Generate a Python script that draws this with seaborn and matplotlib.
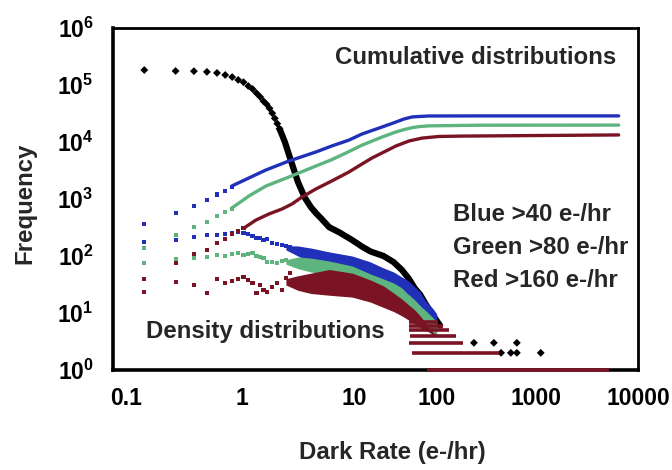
import matplotlib
matplotlib.use("Agg")
import matplotlib.pyplot as plt
import matplotlib.transforms as mtransforms
import seaborn as sns
from matplotlib.ticker import FixedLocator, NullFormatter, LogLocator

# ---------------- data ----------------
# black: density of all pixels (sparse dots, then dense line)
black_dot_x = [0.2, 0.4, 0.6, 0.8, 1.0, 1.2, 1.4, 1.6, 1.8, 2.0, 2.2, 2.4, 2.6, 2.8, 3.0, 3.2, 3.4, 3.6, 3.8, 4.0]
black_dot_y = [1.83e5, 1.76e5, 1.75e5, 1.70e5, 1.63e5, 1.50e5, 1.38e5, 1.23e5, 1.12e5, 9.6e4,
               8.5e4, 7.2e4, 6.2e4, 5.2e4, 4.6e4, 3.9e4, 3.2e4, 2.6e4, 2.1e4, 1.7e4]
black_line_x = [4.0, 4.5, 5, 6, 7, 8, 9, 10, 12, 15, 20, 25, 30, 40, 50, 60, 70, 80, 90, 100, 120, 140]
black_line_y = [1.7e4, 1.0e4, 5.5e3, 2.0e3, 1.05e3, 720, 560, 460, 320, 260, 190, 145, 120, 100,
                78, 57, 40, 27, 21, 15, 9, 6]
black_extra_x = [296, 460, 766, 540, 670, 766, 1300]
black_extra_y = [3, 3, 3, 2, 2, 2, 2]

# cumulative distributions
cum_dot_x = [0.2, 0.4, 0.6, 0.8, 1.0, 1.2, 1.4]
blue_cum_dot_y = [366, 566, 755, 965, 1200, 1400, 1620]
green_cum_dot_y = [138, 233, 324, 395, 505, 590, 666]
red_cum_dot_x = [0.2, 0.4, 0.6, 0.8, 1.0, 1.2, 1.4, 1.6, 1.8]
red_cum_dot_y = [39.4, 75, 108, 127, 169, 198, 243, 275, 310]

blue_cum_line_x = [1.39, 2.03, 2.96, 4.92, 8.94, 12.7, 18.6, 24.8, 38.6, 52.6, 62.8, 75, 87.6, 109, 330, 7300]
blue_cum_line_y = [1690, 2340, 3230, 4640, 6680, 8510, 10800, 13800, 18300, 22400, 25300, 27500, 28000,
                   28600, 28700, 28700]
green_cum_line_x = [1.39, 2.03, 2.96, 4.92, 8.94, 12.7, 18.6, 24.8, 38.6, 52.6, 62.8, 75, 87.6, 109, 330, 7300]
green_cum_line_y = [695, 1130, 1690, 2430, 3790, 4900, 6800, 8800, 12200, 15000, 16500, 17800, 18600,
                    19200, 19700, 19800]
red_cum_line_x = [1.82, 2.37, 3.16, 4.22, 5.26, 6.56, 8.94, 12.7, 18.6, 24.8, 31, 38.6, 52.6, 70, 93.6,
                  136, 226, 7300]
red_cum_line_y = [310, 427, 546, 668, 817, 1080, 1500, 2070, 2980, 4110, 5250, 6410, 8510, 10400, 11700,
                  12500, 12700, 13300]

# density distributions, sparse part
dens_x = [0.2, 0.4, 0.6, 0.8, 1.0, 1.2, 1.4, 1.6, 1.8, 2.0, 2.2, 2.4, 2.6, 2.8, 3.0, 3.4, 3.8, 4.2, 4.6, 5.0]
blue_dens_y = [176, 191, 215, 234, 234, 243, 253, 264, 253, 243, 225, 207, 207, 191, 199, 169, 162, 156, 150, 144]
green_dens_y = [75, 89, 92, 96, 104, 100, 108, 113, 104, 108, 113, 100, 96, 92, 78, 78, 75, 81, 85, 78]
red_dens_y = [23, 35, 31, 22.4, 39, 34, 36, 39, 43, 38, 34, 22.4, 31, 25, 23, 28.6, 34, 25, 41, 50]

# density distributions, dense part (upper / lower envelope of the dot cloud)
band_x = [4.6, 6, 8, 12, 20, 30, 40, 50, 60, 70, 80, 90, 100, 110, 120, 130]
blue_hi = [152, 150, 138, 118, 100, 78.5, 61.6, 52.4, 42.8, 36.4, 28.6, 23.4, 16.9, 13.8, 11.8, 9.6]
blue_lo = [128, 100, 78.5, 66.8, 56.8, 44.6, 35, 29.8, 24.3, 20.7, 16.2, 13.3, 9.6, 7.85, 6.7, 5.5]
green_hi = [86, 96, 92, 81.7, 66.8, 48.3, 39.5, 33.6, 27.5, 20.7, 16.9, 13.3, 11.3, 9.6, 8.2, 6.95]
green_lo = [72, 60, 52.4, 46.4, 37.9, 27.5, 22.4, 19.1, 15.6, 11.8, 9.6, 7.85, 6.4, 5.5, 4.6, 3.95]
red_hi = [40, 45, 50, 58, 50, 37.9, 29.8, 22.4, 17.6, 13.8, 11.3, 8.9, 6.95, 5.5, 4.6, 4.1]
red_lo = [31, 25, 22, 20.5, 19, 15.5, 12.5, 10.6, 8.9, 7.5, 6.4, 5.5, 5.0, 4.6, 4.1, 3.8]

# integer-count rows of the red density cloud
stripe_counts = [1, 2, 3, 4, 5, 6, 7]
stripe_start = [105, 75, 70, 72, 70, 70, 70]
stripe_end = [5900, 520, 230, 200, 170, 150, 135]

x_ticks = [0.1, 1, 10, 100, 1000, 10000]
x_labels = ["0.1", "1", "10", "100", "1000", "10000"]
y_ticks = [1, 10, 100, 1000, 10000, 100000, 1000000]
y_labels = [r"$\mathbf{10^{%d}}$" % i for i in range(7)]

# ---------------- style ----------------
sns.set_theme(style="white")
plt.rcParams["font.family"] = ["Liberation Sans", "DejaVu Sans"]
plt.rcParams["mathtext.fontset"] = "custom"
plt.rcParams["mathtext.rm"] = "Liberation Sans"
plt.rcParams["mathtext.bf"] = "Liberation Sans:bold"

BLUE = "#2030b8"
GREEN = "#5db47e"
RED = "#7a1424"
BLACK = "#000000"
FS_TICK = 16.5
FS = 17.3

fig = plt.figure(figsize=(6.72, 4.70), dpi=100)
ax = fig.add_axes([113 / 672, 1 - 370 / 470, (638 - 113) / 672, (370 - 28) / 470])
ax.set_xscale("log")
ax.set_yscale("log")

# black series
sns.lineplot(x=black_line_x, y=black_line_y, ax=ax, color=BLACK, lw=4.5, estimator=None,
             sort=False, zorder=2)
sns.scatterplot(x=black_dot_x, y=black_dot_y, ax=ax, color=BLACK, s=16, marker="D",
                edgecolor="none", zorder=2)
sns.scatterplot(x=black_extra_x, y=black_extra_y, ax=ax, color=BLACK, s=16, marker="D",
                edgecolor="none", zorder=2)

# density bands
ax.fill_between(band_x, blue_lo, blue_hi, color=BLUE, lw=0, zorder=3)
ax.fill_between(band_x, green_lo, green_hi, color=GREEN, lw=0, zorder=4)
ax.fill_between(band_x, red_lo, red_hi, color=RED, lw=0, zorder=5)
ax.hlines(stripe_counts, stripe_start, stripe_end, colors=RED, lw=2.6, zorder=6, clip_on=False)

# density sparse dots
for yy, col in [(blue_dens_y, BLUE), (green_dens_y, GREEN), (red_dens_y, RED)]:
    sns.scatterplot(x=dens_x, y=yy, ax=ax, color=col, s=9, marker="s", edgecolor="none", zorder=5)

# cumulative
for yy, col in [(blue_cum_dot_y, BLUE), (green_cum_dot_y, GREEN)]:
    sns.scatterplot(x=cum_dot_x, y=yy, ax=ax, color=col, s=9, marker="s", edgecolor="none", zorder=7)
sns.scatterplot(x=red_cum_dot_x, y=red_cum_dot_y, ax=ax, color=RED, s=9, marker="s",
                edgecolor="none", zorder=7)
sns.lineplot(x=blue_cum_line_x, y=blue_cum_line_y, ax=ax, color=BLUE, lw=2.4, estimator=None, zorder=7)
sns.lineplot(x=green_cum_line_x, y=green_cum_line_y, ax=ax, color=GREEN, lw=2.4, estimator=None, zorder=7)
sns.lineplot(x=red_cum_line_x, y=red_cum_line_y, ax=ax, color=RED, lw=2.4, estimator=None, zorder=7)

# axes
ax.set_xlim(0.1, 1.12e4)
ax.set_ylim(1, 1e6)
ax.xaxis.set_major_locator(FixedLocator(x_ticks))
ax.set_xticklabels(x_labels, fontsize=FS_TICK, fontweight="bold")
ax.yaxis.set_major_locator(FixedLocator(y_ticks))
ax.set_yticklabels(y_labels, fontsize=FS_TICK)
ax.xaxis.set_minor_locator(LogLocator(base=10, subs=range(2, 10), numticks=20))
ax.yaxis.set_minor_locator(LogLocator(base=10, subs=range(2, 10), numticks=20))
ax.xaxis.set_minor_formatter(NullFormatter())
ax.yaxis.set_minor_formatter(NullFormatter())
ax.tick_params(which="both", direction="in", top=False, right=False, colors=BLACK)
ax.tick_params(which="major", length=8, width=1.5)
ax.tick_params(which="minor", length=4, width=1.2)
ax.tick_params(axis="x", which="major", pad=12)
ax.tick_params(axis="y", which="major", pad=14)
for side, sp in ax.spines.items():
    sp.set_visible(True)
    sp.set_color(BLACK)
    sp.set_linewidth(2.6 if side in ("left", "bottom") else 2.0)
    sp.set_zorder(5.5)

# the reference's x tick labels sit a little right of their ticks
label_shift_px = [13, 25, 33, 12, 7, 5]
for lab, dx in zip(ax.get_xticklabels(), label_shift_px):
    lab.set_transform(lab.get_transform() + mtransforms.ScaledTranslation(dx / 100, 0, fig.dpi_scale_trans))

ax.set_xlabel("Dark Rate (e-/hr)", fontsize=FS, fontweight="bold")
ax.set_ylabel("Frequency", fontsize=FS, fontweight="bold")
ax.xaxis.set_label_coords((392 - 113) / 525, (370 - 441) / 342)
ax.yaxis.set_label_coords((36 - 113) / 525, (370 - 203) / 342)

ax.text(0.691, 0.915, "Cumulative distributions", transform=ax.transAxes, ha="center",
        va="center", fontsize=FS, fontweight="bold")
ax.text(0.648, 0.456, "Blue >40 e-/hr", transform=ax.transAxes, ha="left", va="center",
        fontsize=FS, fontweight="bold")
ax.text(0.648, 0.357, "Green >80 e-/hr", transform=ax.transAxes, ha="left", va="center",
        fontsize=FS, fontweight="bold")
ax.text(0.648, 0.263, "Red >160 e-/hr", transform=ax.transAxes, ha="left", va="center",
        fontsize=FS, fontweight="bold")
ax.text(0.291, 0.114, "Density distributions", transform=ax.transAxes, ha="center",
        va="center", fontsize=FS, fontweight="bold")

fig.savefig("out.png", dpi=100, facecolor="white")
